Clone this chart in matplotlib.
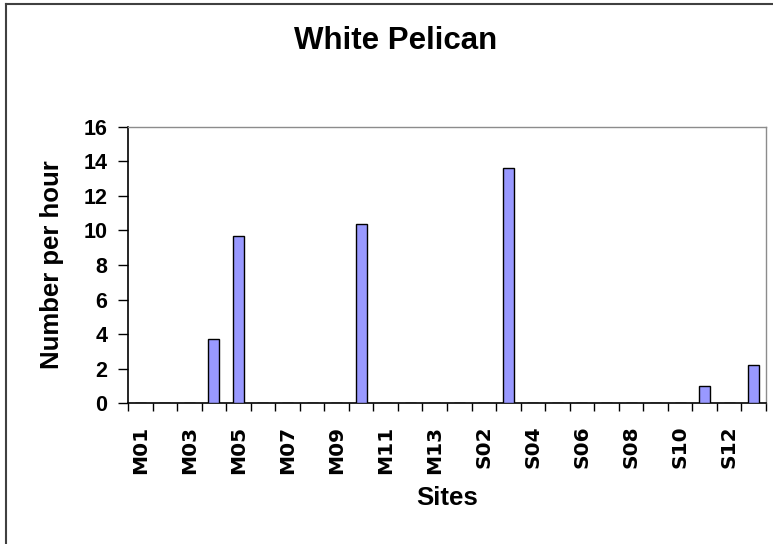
import matplotlib
matplotlib.use("Agg")
import matplotlib.pyplot as plt
from matplotlib.lines import Line2D

plt.rcParams['font.family'] = ['Liberation Sans', 'DejaVu Sans']

# ---- data ----
sites = ['M01', 'M02', 'M03', 'M04', 'M05', 'M06', 'M07', 'M08', 'M09', 'M10',
         'M11', 'M12', 'M13',
         'S01', 'S02', 'S03', 'S04', 'S05', 'S06', 'S07', 'S08', 'S09', 'S10',
         'S11', 'S12', 'S13']
values = [0, 0, 0, 3.7, 9.7, 0, 0, 0, 0, 10.4,
          0, 0, 0,
          0, 0, 13.6, 0, 0, 0, 0, 0, 0, 0,
          1.0, 0, 2.2]
title = 'White Pelican'
xlabel = 'Sites'
ylabel = 'Number per hour'
yticks = [0, 2, 4, 6, 8, 10, 12, 14, 16]

W, H = 773, 544
fig = plt.figure(figsize=(W / 100, H / 100), dpi=100)
fig.patch.set_facecolor('white')

# plot area in pixel coordinates
left, right, top, bottom = 128, 766, 126.7, 403.3
ax = fig.add_axes([left / W, 1 - bottom / H, (right - left) / W, (bottom - top) / H])

x = list(range(len(sites)))
ax.bar(x, values, width=0.45, color='#9999FF', edgecolor='black', linewidth=1.0, zorder=3)

ax.set_xlim(-0.5, len(sites) - 0.5)
ax.set_ylim(0, 16)
ax.set_yticks(yticks)
ax.set_yticklabels([str(v) for v in yticks], fontsize=15.5, fontweight='bold')
ax.tick_params(axis='y', direction='out', length=7, width=1.0, pad=8, colors='black')

# major ticks at category boundaries, labels on every other category (minor)
ax.set_xticks([i - 0.5 for i in range(len(sites) + 1)])
ax.set_xticklabels([])
ax.tick_params(axis='x', which='major', direction='out', length=6, width=1.0)
lab_pos = x[::2]
ax.set_xticks(lab_pos, minor=True)
ax.set_xticklabels([sites[i] for i in lab_pos], minor=True, rotation=90,
                   fontsize=14.5, fontweight='bold',
                   family=['DejaVu Sans', 'Liberation Sans'])
ax.tick_params(axis='x', which='minor', length=0, pad=16)

for s in ['left', 'bottom']:
    ax.spines[s].set_color('black')
    ax.spines[s].set_linewidth(1.2)
for s in ['top', 'right']:
    ax.spines[s].set_color('#8c8c8c')
    ax.spines[s].set_linewidth(1.0)

ax.set_xlabel(xlabel, fontsize=18.5, fontweight='bold', va='center')
ax.xaxis.set_label_coords(0.5, (bottom - 498) / (bottom - top))
ax.set_ylabel(ylabel, fontsize=18.5, fontweight='bold', va='center')
ax.yaxis.set_label_coords((52 - left) / (right - left), 0.5)

fig.text(396 / W, 1 - 41 / H, title, ha='center', va='center',
         fontsize=22.5, fontweight='bold')

# chart border (top and left visible)
fig.add_artist(Line2D([6 / W, 6 / W], [0, 1 - 4 / H], color='#404040', linewidth=1.5,
                      transform=fig.transFigure))
fig.add_artist(Line2D([6 / W, 1], [1 - 4 / H, 1 - 4 / H], color='#404040', linewidth=1.5,
                      transform=fig.transFigure))

fig.savefig('out.png', dpi=100, facecolor='white')
